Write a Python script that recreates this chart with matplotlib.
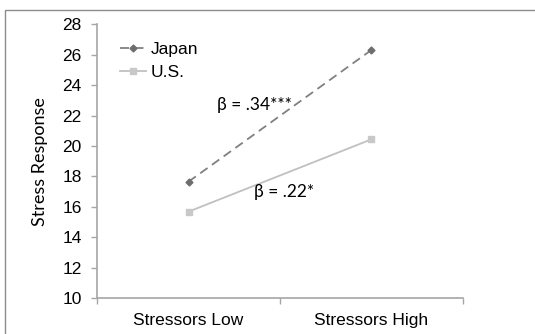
import matplotlib
matplotlib.use('Agg')
import matplotlib.pyplot as plt
from matplotlib.patches import Rectangle

# Group means by stressor level
conditions = ['Stressors Low', 'Stressors High']
japan = [17.65, 26.32]
us = [15.68, 20.44]
y_ticks = [10, 12, 14, 16, 18, 20, 22, 24, 26, 28]
beta_japan = 'β = .34***'
beta_us = 'β = .22*'

TICK_FONT = ['Liberation Sans', 'DejaVu Sans']
TEXT_FONT = ['Lato', 'DejaVu Sans']
AXIS_GREY = '#a6a6a6'

fig = plt.figure(figsize=(5.35, 3.34), dpi=100)
ax = fig.add_axes([97 / 535, 1 - 298 / 334, 366 / 535, (298 - 24.4) / 334])

# Outer chart-area frame (runs off the right and bottom edges)
frame_top = 1 - 9.5 / 334
fig.patches.append(Rectangle((5 / 535, -0.2), 1.2, frame_top + 0.2,
                             transform=fig.transFigure, fill=False,
                             edgecolor='#8c8c8c', linewidth=1.0))

x = [0.5, 1.5]
ax.plot(x, japan, color='#808080', linestyle=(0, (5, 3)), linewidth=1.3,
        marker='D', markersize=3.5, markerfacecolor='#6e6e6e',
        markeredgecolor='#6e6e6e', label='Japan')
ax.plot(x, us, color='#c0c0c0', linestyle='-', linewidth=1.3,
        marker='s', markersize=4.5, markerfacecolor='#c8c8c8',
        markeredgecolor='#c8c8c8', label='U.S.')

ax.set_xlim(0, 2)
ax.set_ylim(10, 28)
ax.set_yticks(y_ticks)
ax.set_yticklabels([str(v) for v in y_ticks], family=TICK_FONT, fontsize=12.5)
ax.set_xticks([0, 1, 2])
ax.set_xticklabels([])
ax.set_xticks(x, minor=True)
ax.set_xticklabels(conditions, minor=True, family=TICK_FONT, fontsize=12.5)
ax.tick_params(axis='x', which='minor', length=0, pad=11)
ax.tick_params(axis='both', which='major', direction='out', length=4,
               color=AXIS_GREY, width=1)
ax.tick_params(axis='y', pad=7)

for side in ['top', 'right']:
    ax.spines[side].set_visible(False)
for side in ['left', 'bottom']:
    ax.spines[side].set_color(AXIS_GREY)
    ax.spines[side].set_linewidth(1.2)

ax.set_ylabel('Stress Response', family=TEXT_FONT, fontsize=13, labelpad=10)

ax.text(0.86, 22.7, beta_japan, family=TEXT_FONT, fontsize=12.5,
        ha='center', va='center')
ax.text(1.02, 17.0, beta_us, family=TEXT_FONT, fontsize=12.5,
        ha='center', va='center')

ax.legend(loc='upper left', bbox_to_anchor=(0.045, 0.96), frameon=False,
          prop={'family': TICK_FONT, 'size': 12.5}, handlelength=1.5,
          handletextpad=0.25, labelspacing=0.45, borderaxespad=0)

fig.savefig('out.png', dpi=100)
plt.close(fig)
